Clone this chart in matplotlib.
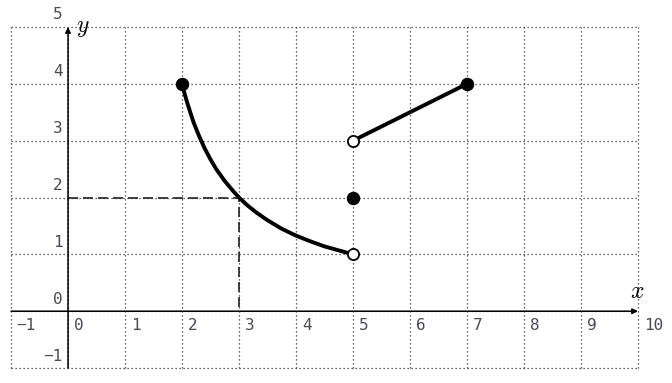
import numpy as np
import matplotlib.pyplot as plt

plt.rcParams['mathtext.fontset'] = 'cm'

# curve, from (2,4) down to (5,1)
curve_x = [2.0, 2.05, 2.1, 2.2, 2.3, 2.4, 2.5, 2.6, 2.75, 2.9, 3.0, 3.15, 3.3, 3.5,
           3.75, 4.0, 4.25, 4.5, 4.75, 5.0]
curve_y = [4.0, 3.81, 3.64, 3.33, 3.08, 2.86, 2.67, 2.5, 2.29, 2.11, 2.0, 1.86, 1.74, 1.6,
           1.45, 1.33, 1.23, 1.14, 1.07, 1.0]

# straight piece from (5,3) to (7,4)
line_x = [5, 7]
line_y = [3, 4]

# filled and open points
filled_x = [2, 5, 7]
filled_y = [4, 2, 4]
open_x = [5, 5]
open_y = [1, 3]

# dashed guide to the point (3,2)
guide_x = [0, 3, 3]
guide_y = [2, 2, 0]

x_ticks = list(range(-1, 11))
y_ticks = list(range(-1, 6))

fig = plt.figure(figsize=(6.72, 3.83), dpi=100)
ax = fig.add_axes([0.0164, 0.039, 0.9330, 0.8905])
ax.set_xlim(-1, 10)
ax.set_ylim(-1, 5)

# dotted grid, including the outer border
for xv in x_ticks:
    ax.plot([xv, xv], [-1, 5], ls=(0, (1, 2.2)), color='#333333', lw=0.9, clip_on=False, zorder=1)
for yv in y_ticks:
    ax.plot([-1, 10], [yv, yv], ls=(0, (1, 2.2)), color='#333333', lw=0.9, clip_on=False, zorder=1)

# axes with arrows
ax.annotate('', xy=(10, 0), xytext=(-1, 0),
            arrowprops=dict(arrowstyle='-|>', color='black', lw=1.1, mutation_scale=8,
                            shrinkA=0, shrinkB=0), annotation_clip=False)
ax.annotate('', xy=(0, 5), xytext=(0, -1),
            arrowprops=dict(arrowstyle='-|>', color='black', lw=1.1, mutation_scale=8,
                            shrinkA=0, shrinkB=0), annotation_clip=False)
ax.text(9.98, 0.15, r'$x$', fontsize=17, ha='center', va='bottom')
ax.text(0.14, 5, r'$y$', fontsize=17, ha='left', va='center')

# tick labels
tick_font = dict(family='DejaVu Sans Mono', fontsize=11.5, color='#4a4a55')
for xv in x_ticks:
    lab = str(xv).replace('-', '\u2212')
    ax.text(xv + 0.1, -0.12, lab, ha='left', va='top', **tick_font)
for yv in y_ticks:
    lab = str(yv).replace('-', '\u2212')
    ax.text(-0.1, yv + 0.08, lab, ha='right', va='bottom', **tick_font)

# dashed guide lines
ax.plot(guide_x, guide_y, ls=(0, (6, 3)), color='#222222', lw=1.2, zorder=2)

# graph pieces
ax.plot(curve_x, curve_y, color='black', lw=2.8, solid_capstyle='round', zorder=3)
ax.plot(line_x, line_y, color='black', lw=2.8, solid_capstyle='round', zorder=3)
ax.scatter(filled_x, filled_y, s=75, color='black', zorder=4, clip_on=False)
ax.scatter(open_x, open_y, s=65, facecolor='white', edgecolor='black', linewidths=1.3, zorder=4)

ax.set_axis_off()
fig.savefig('out.png', dpi=100)
